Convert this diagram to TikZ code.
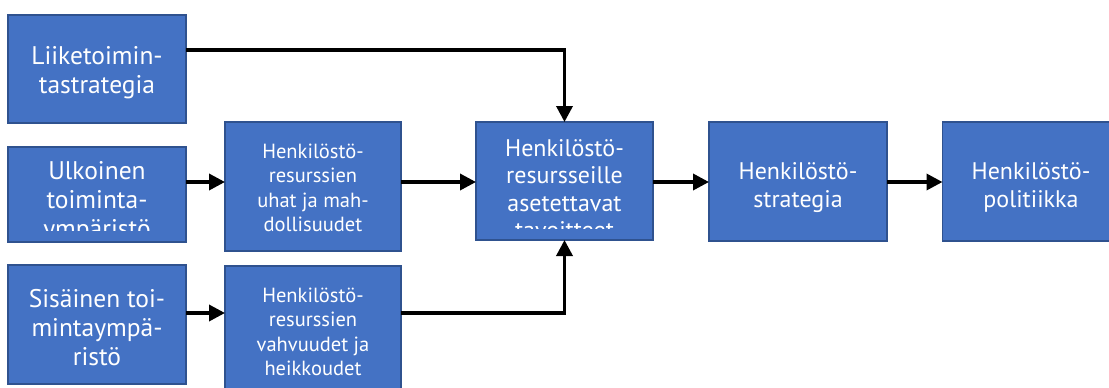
\documentclass[tikz,border=0pt]{standalone}
\usepackage{fontspec}
\setmainfont{PT Sans}
\usetikzlibrary{arrows.meta}
\definecolor{boxfill}{HTML}{4472C4}
\definecolor{boxline}{HTML}{2F528F}
\tikzset{
  blk/.style={draw=boxline, line width=1.5pt, fill=boxfill, inner sep=0pt, outer sep=0pt},
  lbl/.style={text=white, align=center, inner sep=0pt},
  big/.style={font=\fontsize{25.5}{29}\selectfont},
  mid/.style={font=\fontsize{24}{27.5}\selectfont},
  small/.style={font=\fontsize{20.5}{24.5}\selectfont},
  flow/.style={line width=3.5pt, -{Triangle[length=16pt,width=16pt]}}
}
% text of a block, cut at the block's inner text area (12pt bottom margin)
\newcommand{\boxtext}[4]{% box name, style, y centre, text
  \begin{scope}
    \clip (#1.north west) rectangle ([yshift=12pt]#1.south east);
    \node[lbl,#2] at (#1.center |- 0,#3) {#4};
  \end{scope}}
\begin{document}
\begin{tikzpicture}[x=1pt,y=-1pt]
\useasboundingbox (0,0) rectangle (1109,388);
% blocks
\node[blk, minimum width=178pt, minimum height=108pt] (liik) at (97,69) {};
\node[blk, minimum width=178pt, minimum height=95pt]  (ulk)  at (97,194.5) {};
\node[blk, minimum width=178pt, minimum height=119pt] (sis)  at (97,324.5) {};
\node[blk, minimum width=176pt, minimum height=129pt] (uhat) at (313,186.5) {};
\node[blk, minimum width=176pt, minimum height=134pt] (vahv) at (313,333) {};
\node[blk, minimum width=177pt, minimum height=118pt] (tav)  at (564.5,181) {};
\node[blk, minimum width=178pt, minimum height=119pt] (strat) at (798,181.5) {};
\node[blk, minimum width=177pt, minimum height=119pt] (pol)  at (1031,181.5) {};
% texts
\boxtext{liik}{big}{73}{Liiketoimin-\\tastrategia}
\boxtext{ulk}{big}{202}{Ulkoinen\\toiminta-\\ympäristö}
\boxtext{sis}{big}{328}{Sisäinen toi-\\mintaympä-\\ristö}
\boxtext{uhat}{small}{188}{Henkilöstö-\\resurssien\\uhat ja mah-\\dollisuudet}
\boxtext{vahv}{small}{332}{Henkilöstö-\\resurssien\\vahvuudet ja\\heikkoudet}
\boxtext{tav}{mid}{189}{Henkilöstö-\\resursseille\\asetettavat\\tavoitteet}
\boxtext{strat}{mid}{187.5}{Henkilöstö-\\strategia}
\boxtext{pol}{mid}{187.5}{Henkilöstö-\\politiikka}
% connectors
\coordinate (row) at (0,182);
\coordinate (low) at (0,313);
\draw[flow] ([yshift=19pt]liik.east) -| (tav.north);
\draw[flow] (ulk.east |- row) -- (uhat.west |- row);
\draw[flow] (uhat.east |- row) -- (tav.west |- row);
\draw[flow] (tav.east |- row) -- (strat.west |- row);
\draw[flow] (strat.east |- row) -- (pol.west |- row);
\draw[flow] (sis.east |- low) -- (vahv.west |- low);
\draw[flow] (vahv.east |- low) -| (tav.south);
\end{tikzpicture}
\end{document}
